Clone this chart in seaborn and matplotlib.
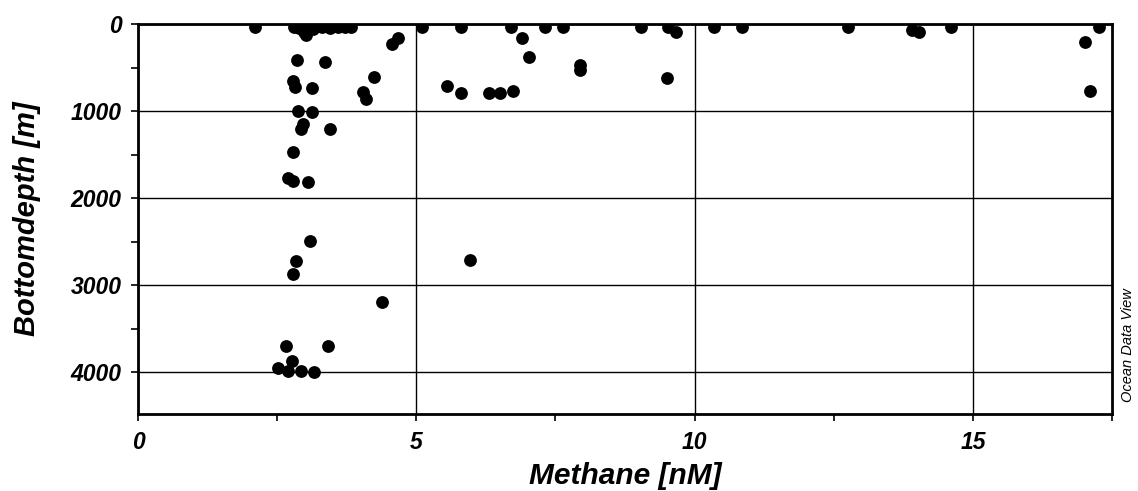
import matplotlib
matplotlib.use("Agg")
import matplotlib.pyplot as plt
from matplotlib.ticker import MultipleLocator
import numpy as np
import pandas as pd
import seaborn as sns

# Methane concentration [nM] and bottom depth [m] of each sample
methane = [
    2.10, 2.80, 2.90, 2.98, 3.05, 3.15, 3.30, 3.45, 3.60, 3.72, 3.82, 3.02,
    4.67, 4.56, 5.10, 2.85, 3.36, 4.24, 2.78, 2.82, 3.12, 4.04, 4.09, 5.55,
    2.87, 3.12, 2.96, 2.93, 3.45, 2.78, 2.69, 2.78, 3.05, 3.09, 2.84, 2.78,
    4.38, 5.96, 2.66, 3.41, 2.76, 2.51, 2.69, 2.93, 3.16,
    5.80, 6.70, 6.89, 7.02, 7.32, 7.63, 7.94, 7.94, 9.03, 9.53, 9.66, 9.50,
    10.34, 10.86, 5.80, 6.30, 6.50, 6.73,
    12.75, 13.90, 14.04, 14.60, 17.27, 17.02, 17.11,
]
depth = [
    40, 30, 50, 90, 40, 60, 30, 50, 30, 30, 30, 126,
    160, 230, 40, 414, 436, 609, 655, 724, 735, 782, 862, 713,
    1000, 1011, 1149, 1207, 1207, 1471, 1770, 1805, 1816, 2494, 2724, 2874,
    3195, 2713, 3701, 3701, 3874, 3954, 3989, 3989, 4000,
    40, 40, 160, 379, 40, 40, 470, 530, 30, 40, 95, 620,
    40, 30, 796, 790, 790, 770,
    30, 70, 95, 40, 30, 210, 765,
]

x_ticks = [0, 5, 10, 15]
y_ticks = [0, 1000, 2000, 3000, 4000]

df = pd.DataFrame({"Methane": methane, "Depth": depth})

sns.set_style("ticks")
plt.rcParams["font.family"] = ["Liberation Sans", "DejaVu Sans"]
plt.rcParams["text.color"] = "black"
plt.rcParams["axes.labelcolor"] = "black"
plt.rcParams["xtick.color"] = "black"
plt.rcParams["ytick.color"] = "black"

fig = plt.figure(figsize=(11.38, 4.91), dpi=100)
ax = fig.add_axes([0.1213, 0.1568, 0.8559, 0.7943])

sns.scatterplot(data=df, x="Methane", y="Depth", ax=ax, color="black",
                s=85, edgecolor="black", linewidth=0, zorder=3)

ax.set_xlim(0, 17.5)
ax.set_ylim(4480, 0)
ax.set_xticks(x_ticks)
ax.set_yticks(y_ticks)
ax.xaxis.set_minor_locator(MultipleLocator(2.5))
ax.yaxis.set_minor_locator(MultipleLocator(500))

ax.grid(True, which="major", color="black", linewidth=1.0)
for s in ax.spines.values():
    s.set_linewidth(2.0)
    s.set_color("black")

ax.tick_params(which="both", direction="out", length=5, width=1.2,
               color="black", pad=7)
for lab in ax.get_xticklabels() + ax.get_yticklabels():
    lab.set_fontsize(16.5)
    lab.set_fontweight("bold")
    lab.set_fontstyle("italic")

ax.set_xlabel("Methane [nM]", fontsize=21.5, fontweight="bold",
              fontstyle="italic", labelpad=6)
ax.set_ylabel("Bottomdepth [m]", fontsize=21, fontweight="bold",
              fontstyle="italic", labelpad=8)
ax.yaxis.set_label_coords(-0.1, 0.5)

fig.text(0.9915, 0.414, "Ocean Data View", rotation=90, fontsize=10.5,
         fontstyle="italic", ha="center", va="top")

fig.savefig("out.png", dpi=100, facecolor="white")
